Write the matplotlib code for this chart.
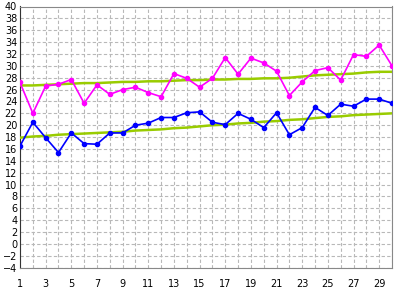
import matplotlib
matplotlib.use("Agg")
import matplotlib.pyplot as plt

days = list(range(1, 31))
high = [27.2, 22.0, 26.6, 26.9, 27.7, 23.7, 26.8, 25.2, 26.0, 26.4,
        25.5, 24.8, 28.7, 27.9, 26.4, 27.9, 31.4, 28.6, 31.3, 30.5,
        29.1, 25.0, 27.3, 29.2, 29.7, 27.6, 31.9, 31.6, 33.5, 30.0]
low = [16.5, 20.5, 17.9, 15.4, 18.7, 16.9, 16.8, 18.7, 18.7, 20.0,
       20.35, 21.3, 21.3, 22.1, 22.25, 20.5, 20.1, 22.0, 21.0, 19.6,
       22.1, 18.4, 19.6, 23.0, 21.65, 23.55, 23.2, 24.4, 24.4, 23.7]
normal_high = [26.7, 26.7, 26.8, 26.9, 27.0, 27.1, 27.1, 27.2, 27.3, 27.3,
               27.4, 27.4, 27.5, 27.6, 27.6, 27.7, 27.7, 27.8, 27.8, 27.9,
               27.9, 28.0, 28.2, 28.4, 28.5, 28.6, 28.7, 28.9, 29.0, 29.0]
normal_low = [17.9, 18.1, 18.2, 18.4, 18.5, 18.6, 18.7, 18.8, 18.9, 19.1,
              19.2, 19.3, 19.5, 19.6, 19.8, 20.0, 20.1, 20.3, 20.4, 20.6,
              20.7, 20.9, 21.0, 21.2, 21.4, 21.5, 21.7, 21.8, 21.9, 22.0]
yticks = list(range(-4, 41, 2))

fig = plt.figure(figsize=(3.98, 2.88), dpi=100)
ax = fig.add_axes([20/398, (288-267.7)/288, 372/398, (267.7-6.5)/288])

green = '#99cc00'
ax.plot(days, normal_high, color=green, lw=1.8, zorder=3)
ax.plot(days, normal_low, color=green, lw=1.8, zorder=3)
ax.plot(days, high, color='#ff00ff', lw=1.2, marker='o', ms=3, zorder=4)
ax.plot(days, low, color='#0000ff', lw=1.2, marker='o', ms=3, zorder=4)

ax.set_xlim(1, 30)
ax.set_ylim(-4, 40)
ax.set_xticks(days)
ax.set_xticklabels([str(d) if d % 2 == 1 else '' for d in days])
ax.set_yticks(yticks)
ax.set_yticklabels([str(v).replace('-', '\u2212') for v in yticks])
ax.grid(True, color='#b8b8b8', ls=(0, (3, 2)), lw=0.8)
ax.tick_params(length=0, labelsize=7, pad=2)
ax.tick_params(axis='x', pad=8)
for s in ax.spines.values():
    s.set_color('#888888')
ax.spines['left'].set_color('#333333')

fig.savefig('out.png', dpi=100)
